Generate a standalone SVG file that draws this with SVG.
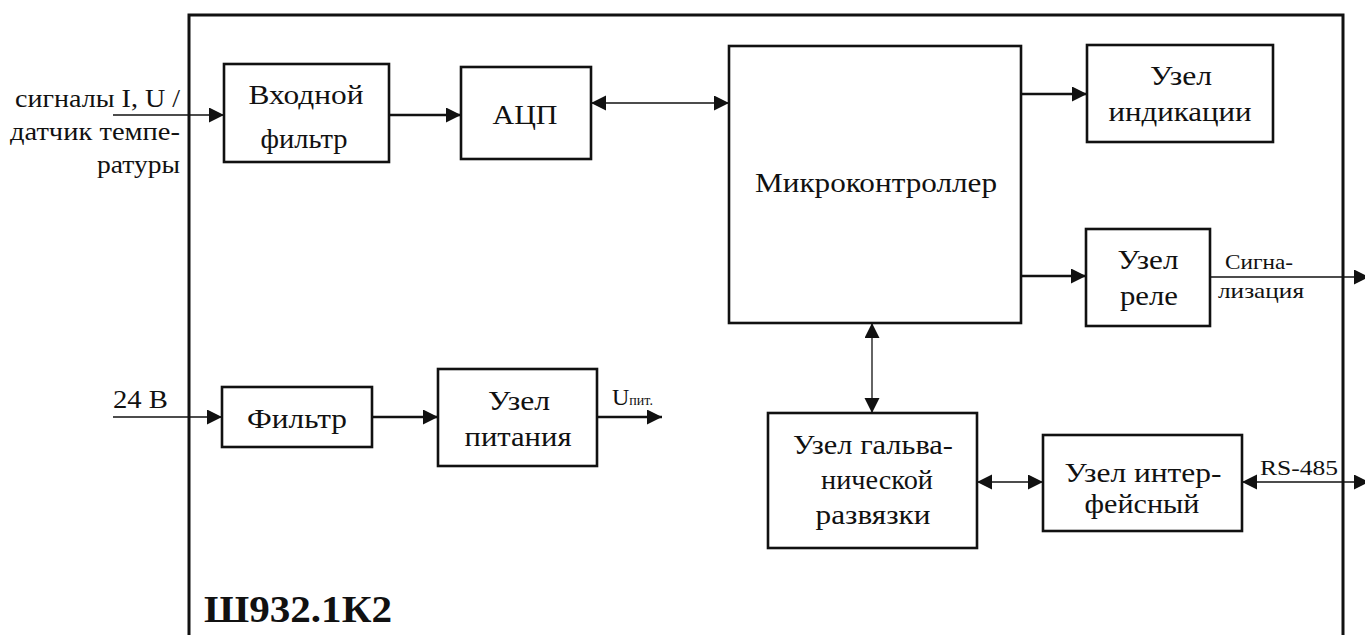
<svg xmlns="http://www.w3.org/2000/svg" width="1365" height="635" viewBox="0 0 1365 635">
<style>
  .box { fill: #fff; stroke: #111; stroke-width: 2.6; }
  .frame { fill: none; stroke: #111; stroke-width: 3; }
  .thick { stroke: #111; stroke-width: 2.6; fill: none; }
  .thin { stroke: #111; stroke-width: 1.3; fill: none; }
  text { font-family: "Liberation Serif", "DejaVu Serif", "Times New Roman", serif; fill: #111; }
  .t { font-size: 27px; text-anchor: middle; }
  .lbl { font-size: 26px; }
  .sm { font-size: 22px; }
  .title { font-size: 38px; font-weight: bold; }
</style>
<defs>
  <marker id="ah" markerUnits="userSpaceOnUse" markerWidth="16" markerHeight="16" refX="15" refY="7.5" orient="auto-start-reverse" viewBox="0 0 16 16">
    <path d="M0,0 L15,7.5 L0,15 z" fill="#111"/>
  </marker>
</defs>
<rect width="1365" height="635" fill="#fff"/>
<path class="frame" d="M189,640 V15 H1343 V640"/>

<g id="connectors">
  <line class="thin" x1="113" y1="115" x2="224" y2="115" marker-end="url(#ah)"/>
  <line class="thick" x1="389" y1="115" x2="461" y2="115" marker-end="url(#ah)"/>
  <line class="thin" x1="591" y1="103" x2="729" y2="103" marker-start="url(#ah)" marker-end="url(#ah)"/>
  <line class="thick" x1="1021" y1="94" x2="1087" y2="94" marker-end="url(#ah)"/>
  <line class="thick" x1="1021" y1="276" x2="1086" y2="276" marker-end="url(#ah)"/>
  <line class="thin" x1="1210" y1="277" x2="1369" y2="277" marker-end="url(#ah)"/>
  <line class="thin" x1="872" y1="323" x2="872" y2="413" marker-start="url(#ah)" marker-end="url(#ah)"/>
  <line class="thin" x1="977" y1="482" x2="1043" y2="482" marker-start="url(#ah)" marker-end="url(#ah)"/>
  <line class="thin" x1="1242" y1="482" x2="1369" y2="482" marker-start="url(#ah)" marker-end="url(#ah)"/>
  <line class="thin" x1="113" y1="417" x2="222" y2="417" marker-end="url(#ah)"/>
  <line class="thick" x1="372" y1="417" x2="438" y2="417" marker-end="url(#ah)"/>
  <line class="thick" x1="597" y1="417" x2="662" y2="417" marker-end="url(#ah)"/>
</g>

<g id="input-label">
  <text class="lbl" x="180" y="107" text-anchor="end" textLength="165" lengthAdjust="spacingAndGlyphs">сигналы I, U /</text>
  <text class="lbl" x="180" y="140" text-anchor="end" textLength="170" lengthAdjust="spacingAndGlyphs">датчик темпе-</text>
  <text class="lbl" x="180" y="173" text-anchor="end" textLength="83" lengthAdjust="spacingAndGlyphs">ратуры</text>
</g>

<g id="input-filter">
  <rect class="box" x="224" y="64" width="165" height="98"/>
  <text class="t" x="306" y="104" textLength="115" lengthAdjust="spacingAndGlyphs">Входной</text>
  <text class="t" x="304" y="148" textLength="87" lengthAdjust="spacingAndGlyphs">фильтр</text>
</g>

<g id="adc">
  <rect class="box" x="461" y="67" width="130" height="92"/>
  <text class="t" x="525" y="124" textLength="65" lengthAdjust="spacingAndGlyphs">АЦП</text>
</g>

<g id="mcu">
  <rect class="box" x="729" y="46" width="292" height="277"/>
  <text class="t" x="876" y="192" textLength="242" lengthAdjust="spacingAndGlyphs">Микроконтроллер</text>
</g>

<g id="indication">
  <rect class="box" x="1087" y="45" width="186" height="97"/>
  <text class="t" x="1181" y="85" textLength="62" lengthAdjust="spacingAndGlyphs">Узел</text>
  <text class="t" x="1180" y="121" textLength="143" lengthAdjust="spacingAndGlyphs">индикации</text>
</g>

<g id="relay">
  <rect class="box" x="1086" y="229" width="124" height="97"/>
  <text class="t" x="1148" y="269" textLength="61" lengthAdjust="spacingAndGlyphs">Узел</text>
  <text class="t" x="1149" y="305" textLength="58" lengthAdjust="spacingAndGlyphs">реле</text>
</g>

<g id="signal-label">
  <text class="sm" x="1225" y="269" textLength="68" lengthAdjust="spacingAndGlyphs">Сигна-</text>
  <text class="sm" x="1218" y="298" textLength="86" lengthAdjust="spacingAndGlyphs">лизация</text>
</g>

<g id="galvanic">
  <rect class="box" x="768" y="413" width="209" height="135"/>
  <text class="t" x="873" y="454" textLength="160" lengthAdjust="spacingAndGlyphs">Узел гальва-</text>
  <text class="t" x="877" y="489" textLength="112" lengthAdjust="spacingAndGlyphs">нической</text>
  <text class="t" x="873" y="524" textLength="115" lengthAdjust="spacingAndGlyphs">развязки</text>
</g>

<g id="interface">
  <rect class="box" x="1043" y="435" width="199" height="96"/>
  <text class="t" x="1143" y="482" textLength="157" lengthAdjust="spacingAndGlyphs">Узел интер-</text>
  <text class="t" x="1142" y="513" textLength="115" lengthAdjust="spacingAndGlyphs">фейсный</text>
</g>

<g id="rs485-label">
  <text class="sm" x="1260" y="475" textLength="78" lengthAdjust="spacingAndGlyphs">RS-485</text>
</g>

<g id="power-input-label">
  <text class="lbl" x="113" y="408" textLength="55" lengthAdjust="spacingAndGlyphs">24 В</text>
</g>

<g id="filter">
  <rect class="box" x="222" y="387" width="150" height="60"/>
  <text class="t" x="297" y="428" textLength="100" lengthAdjust="spacingAndGlyphs">Фильтр</text>
</g>

<g id="power-supply">
  <rect class="box" x="438" y="369" width="159" height="97"/>
  <text class="t" x="519" y="410" textLength="62" lengthAdjust="spacingAndGlyphs">Узел</text>
  <text class="t" x="518" y="446" textLength="107" lengthAdjust="spacingAndGlyphs">питания</text>
</g>

<g id="supply-label">
  <text x="612" y="405" style="font-size:24px">U<tspan style="font-size:14px">пит.</tspan></text>
</g>

<g id="title">
  <text class="title" x="204" y="622" textLength="188" lengthAdjust="spacingAndGlyphs">Ш932.1К2</text>
</g>
</svg>
